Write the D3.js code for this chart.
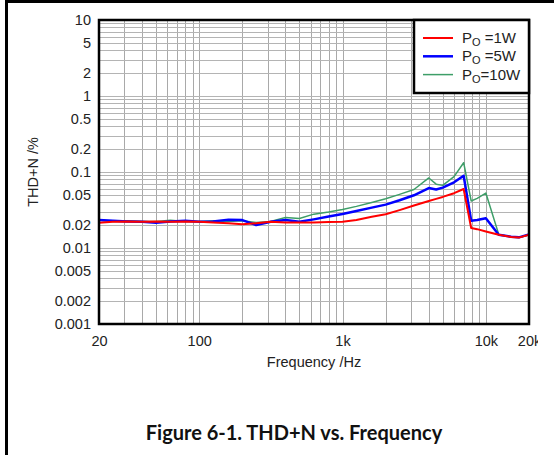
<!DOCTYPE html>
<html>
<head>
<meta charset="utf-8">
<script src="https://cdn.jsdelivr.net/npm/d3@7"></script>
<style>
  body { margin: 0; background: #fff; }
</style>
</head>
<body>
<div id="chart"></div>
<script>
// THD+N vs frequency, three output powers

var freqs = [20, 25, 31.5, 40, 50, 63, 80, 100, 125, 160, 200, 250, 315, 400, 500, 630, 800,
  1000, 1250, 1600, 2000, 2500, 3150, 4000, 4500, 5000, 6000, 7000, 7900, 8700, 10000,
  12300, 15000, 17000, 20000];

var thd1W = [0.0215, 0.0221, 0.0224, 0.0221, 0.0224, 0.0221, 0.0224, 0.0221, 0.0217, 0.0211,
  0.0205, 0.0211, 0.0221, 0.0217, 0.0217, 0.0217, 0.0220, 0.0221, 0.0234, 0.0258, 0.0278,
  0.0315, 0.0362, 0.0416, 0.0443, 0.0470, 0.0526, 0.0598, 0.0183, 0.0177, 0.0165, 0.0149,
  0.0140, 0.0137, 0.0149];

var thd5W = [0.0234, 0.0228, 0.0224, 0.0221, 0.0215, 0.0224, 0.0228, 0.0221, 0.0224, 0.0235,
  0.0233, 0.0200, 0.0221, 0.0234, 0.0221, 0.0238, 0.0259, 0.0280, 0.0307, 0.0340, 0.0372,
  0.0425, 0.0494, 0.0614, 0.0588, 0.0622, 0.0731, 0.0892, 0.0229, 0.0233, 0.0247, 0.0149,
  0.0141, 0.0138, 0.0151];

var thd10W = [0.0234, 0.0224, 0.0228, 0.0224, 0.0224, 0.0231, 0.0224, 0.0224, 0.0228, 0.0224,
  0.0228, 0.0217, 0.0224, 0.0252, 0.0245, 0.0279, 0.0298, 0.0322, 0.0353, 0.0398, 0.0445,
  0.0508, 0.0588, 0.0835, 0.0692, 0.0667, 0.0870, 0.1325, 0.0416, 0.0450, 0.0528, 0.0151,
  0.0140, 0.0137, 0.0149];

var seriesNames = ['=1W', '=5W', '=10W'];
var seriesColors = ['#ff0000', '#0000ff', '#3e9e68'];
var seriesWidths = [2, 2.5, 1.5];

var xTicks = [20, 100, 1000, 10000, 20000];
var xTickLabels = ['20', '100', '1k', '10k', '20k'];
var yTicks = [0.001, 0.002, 0.005, 0.01, 0.02, 0.05, 0.1, 0.2, 0.5, 1, 2, 5, 10];
var yTickLabels = ['0.001', '0.002', '0.005', '0.01', '0.02', '0.05', '0.1', '0.2', '0.5', '1', '2', '5', '10'];

var width = 554, height = 455;
var pLeft = 99, pRight = 529, pTop = 20, pBottom = 324;
var sans = '"Liberation Sans", Arial, sans-serif';
var fs = 14.5;

var svg = d3.select('#chart').append('svg')
  .attr('width', width)
  .attr('height', height);

// page frame (left and top edge)
svg.append('line').attr('x1', 6.5).attr('x2', 6.5).attr('y1', 0).attr('y2', height)
  .attr('stroke', '#000').attr('stroke-width', 3);
svg.append('line').attr('x1', 5).attr('x2', width).attr('y1', 1.5).attr('y2', 1.5)
  .attr('stroke', '#000').attr('stroke-width', 3);

var x = d3.scaleLog().domain([20, 20000]).range([pLeft, pRight]);
var y = d3.scaleLog().domain([0.001, 10]).range([pBottom, pTop]);

// grid lines 1..9 per decade
var xGrid = [], yGrid = [];
[10, 100, 1000, 10000].forEach(function(d) {
  for (var i = 1; i < 10; i++) {
    var v = d * i;
    if (v > 20 && v < 20000) xGrid.push(v);
  }
});
[0.001, 0.01, 0.1, 1].forEach(function(d) {
  for (var i = 1; i < 10; i++) {
    var v = d * i;
    if (v > 0.001 && v < 10) yGrid.push(v);
  }
});

var grid = svg.append('g').attr('class', 'grid');
grid.selectAll('.vx').data(xGrid).enter().append('line')
  .attr('x1', d => Math.round(x(d)) + 0.5).attr('x2', d => Math.round(x(d)) + 0.5)
  .attr('y1', pTop).attr('y2', pBottom)
  .attr('stroke', '#a9a9a9').attr('stroke-width', 1);
grid.selectAll('.hy').data(yGrid).enter().append('line')
  .attr('x1', pLeft).attr('x2', pRight)
  .attr('y1', d => Math.round(y(d)) + 0.5).attr('y2', d => Math.round(y(d)) + 0.5)
  .attr('stroke', '#b4b4b4').attr('stroke-width', 1);

// curves
var series = [thd1W, thd5W, thd10W];
var line = d3.line()
  .x((d, i) => x(freqs[i]))
  .y(d => y(d));

svg.append('g').selectAll('path')
  .data([2, 1, 0])
  .enter().append('path')
  .attr('d', k => line(series[k]))
  .attr('fill', 'none')
  .attr('stroke', k => seriesColors[k])
  .attr('stroke-width', k => seriesWidths[k])
  .attr('stroke-linejoin', 'round');

// plot frame
svg.append('rect')
  .attr('x', pLeft).attr('y', pTop)
  .attr('width', pRight - pLeft).attr('height', pBottom - pTop)
  .attr('fill', 'none').attr('stroke', '#000').attr('stroke-width', 2.5);

// axes
svg.append('clipPath').attr('id', 'cut')
  .append('rect').attr('x', 0).attr('y', 0).attr('width', 538).attr('height', height);

var xAxis = svg.append('g')
  .attr('clip-path', 'url(#cut)')
  .attr('transform', 'translate(0,' + (pBottom + 9) + ')')
  .call(d3.axisBottom(x).tickValues(xTicks).tickSize(0)
    .tickFormat((d, i) => xTickLabels[i]));
xAxis.select('.domain').remove();
xAxis.selectAll('text').attr('font-size', fs).attr('fill', '#222')
  .attr('font-family', sans);

var yAxis = svg.append('g')
  .attr('transform', 'translate(' + (pLeft - 5) + ',0)')
  .call(d3.axisLeft(y).tickValues(yTicks).tickSize(0)
    .tickFormat((d, i) => yTickLabels[i]));
yAxis.select('.domain').remove();
yAxis.selectAll('text').attr('font-size', fs).attr('fill', '#222')
  .attr('font-family', sans);

svg.append('text')
  .attr('x', 314).attr('y', 367)
  .attr('text-anchor', 'middle')
  .attr('font-family', sans)
  .attr('font-size', fs).attr('fill', '#222')
  .text('Frequency /Hz');

svg.append('text')
  .attr('transform', 'translate(38,172) rotate(-90)')
  .attr('text-anchor', 'middle')
  .attr('font-family', sans)
  .attr('font-size', fs).attr('fill', '#222')
  .text('THD+N /%');

// legend
var lg = svg.append('g');
lg.append('rect')
  .attr('x', 414).attr('y', pTop).attr('width', pRight - 414).attr('height', 73)
  .attr('fill', '#fff').attr('stroke', '#000').attr('stroke-width', 2.5);

var rows = lg.selectAll('.row').data(seriesNames).enter().append('g')
  .attr('transform', (d, i) => 'translate(0,' + (38 + i * 18.3) + ')');
rows.append('line')
  .attr('x1', 423).attr('x2', 453).attr('y1', 0).attr('y2', 0)
  .attr('stroke', (d, i) => seriesColors[i])
  .attr('stroke-width', (d, i) => seriesWidths[i]);
var lt = rows.append('text')
  .attr('x', 462).attr('y', 5)
  .attr('font-family', sans)
  .attr('font-size', 15).attr('fill', '#222');
lt.append('tspan').text('P');
lt.append('tspan').attr('font-size', 11).attr('dy', 3).text('O');
lt.append('tspan').attr('dy', -3).text((d, i) => (i < 2 ? ' ' : '') + d);

// caption
svg.append('text')
  .attr('x', 294).attr('y', 440)
  .attr('text-anchor', 'middle')
  .attr('font-family', 'Lato, "Open Sans", sans-serif')
  .attr('font-weight', 'bold')
  .attr('font-size', 20).attr('fill', '#111')
  .text('Figure 6-1. THD+N vs. Frequency');
</script>
</body>
</html>
